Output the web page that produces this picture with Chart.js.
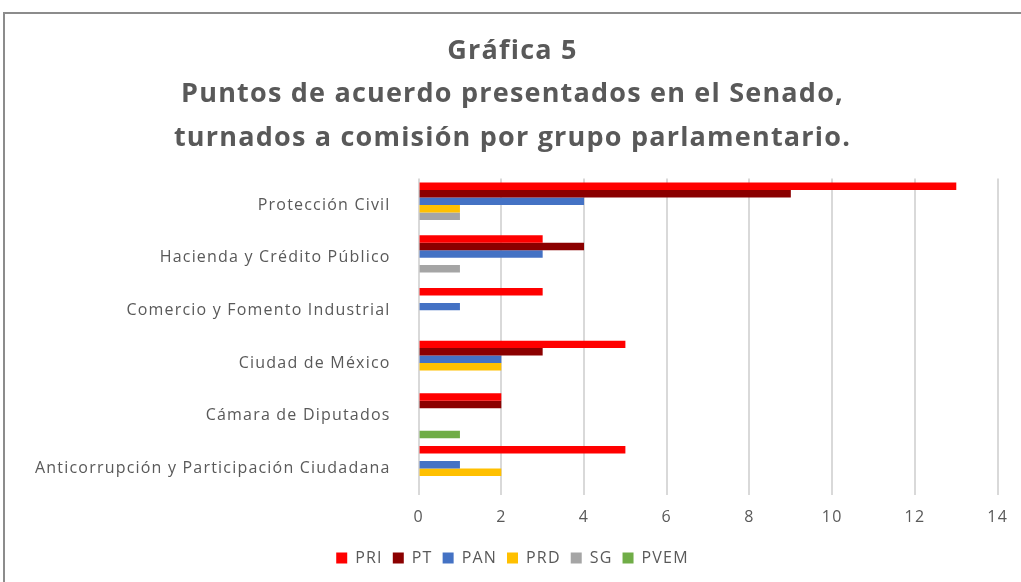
<!DOCTYPE html>
<html>
<head>
<meta charset="utf-8">
<script src="https://cdn.jsdelivr.net/npm/chart.js@4"></script>
<style>
  html, body { margin: 0; padding: 0; background: #fff; }
  #frame {
    position: absolute; left: 3px; top: 12px;
    width: 1040px; height: 600px;
    border: 2px solid #8c8c8c; box-sizing: border-box;
  }
  #wrap { position: absolute; left: 0; top: 0; width: 1021px; height: 582px; }
</style>
</head>
<body>
<div id="frame"></div>
<div id="wrap"><canvas id="grafica"></canvas></div>
<script>
const categorias = [
    'Protección Civil',
    'Hacienda y Crédito Público',
    'Comercio y Fomento Industrial',
    'Ciudad de México',
    'Cámara de Diputados',
    'Anticorrupción y Participación Ciudadana',
];

const pri  = [13, 3, 3, 5, 2, 5];
const pt   = [9, 4, 0, 3, 2, 0];
const pan  = [4, 3, 1, 2, 0, 1];
const prd  = [1, 0, 0, 2, 0, 2];
const sg   = [1, 1, 0, 0, 0, 0];
const pvem = [0, 0, 0, 0, 1, 0];

const ticksX = [0, 2, 4, 6, 8, 10, 12, 14];

const gris = '#595959';

// el texto de Excel sale con las letras algo separadas
const espaciado = {
    id: 'espaciado',
    beforeLayout(chart) { chart.ctx.letterSpacing = '1.2px'; },
    beforeDraw(chart) { chart.ctx.letterSpacing = '1.2px'; }
};

const datos = {
    labels: categorias,
    datasets: [
        { label: 'PRI',  data: pri,  backgroundColor: '#ff0000' },
        { label: 'PT',   data: pt,   backgroundColor: '#8b0000' },
        { label: 'PAN',  data: pan,  backgroundColor: '#4472c4' },
        { label: 'PRD',  data: prd,  backgroundColor: '#ffc000' },
        { label: 'SG',   data: sg,   backgroundColor: '#a5a5a5' },
        { label: 'PVEM', data: pvem, backgroundColor: '#70ad47' },
    ]
};

const config = {
    type: 'bar',
    data: datos,
    plugins: [espaciado],
    options: {
        indexAxis: 'y',
        responsive: true,
        maintainAspectRatio: false,
        animation: false,
        datasets: {
            bar: { categoryPercentage: 0.85, barPercentage: 1.0 }
        },
        layout: { padding: { left: 15, right: 11, top: 30, bottom: 6 } },
        plugins: {
            title: {
                display: true,
                text: [
                    'Gráfica 5',
                    'Puntos de acuerdo presentados en el Senado,',
                    'turnados a comisión por grupo parlamentario.'
                ],
                color: gris,
                font: { family: 'Open Sans', size: 27, weight: 'bold', lineHeight: 1.6 },
                padding: { top: 0, bottom: 19 }
            },
            legend: {
                position: 'bottom',
                labels: {
                    color: gris,
                    boxWidth: 11,
                    boxHeight: 11,
                    padding: 10,
                    font: { family: 'Open Sans', size: 16 }
                }
            },
            tooltip: { enabled: false }
        },
        scales: {
            x: {
                min: 0,
                max: 14,
                afterBuildTicks: (axis) => { axis.ticks = ticksX.map(v => ({ value: v })); },
                grid: { color: '#d9d9d9', lineWidth: 2, drawTicks: false },
                border: { display: false },
                ticks: { color: gris, padding: 13, font: { family: 'Open Sans', size: 16 } }
            },
            y: {
                grid: { display: false },
                border: { display: false },
                ticks: { color: gris, padding: 20, font: { family: 'Open Sans', size: 16 } }
            }
        }
    }
};

const grafica = new Chart(document.getElementById('grafica'), config);
</script>
</body>
</html>
